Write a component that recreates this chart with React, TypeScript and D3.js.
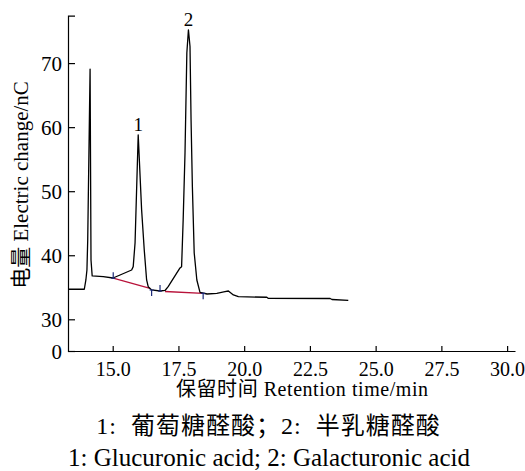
import React, { useEffect, useRef } from "react";
import * as d3 from "d3";

const xTicks = [15.0, 17.5, 20.0, 22.5, 25.0, 27.5, 30.0];
const yTicks = [0, 30, 40, 50, 60, 70];

const traceTime = [
  13.3, 13.92, 13.98, 14.02, 14.05, 14.14, 14.175, 14.22, 14.64, 15.01,
  15.28, 15.72, 15.78, 15.85, 15.97, 16.1, 16.2, 16.29, 16.35, 16.48, 16.8,
  16.99, 17.11, 17.56, 17.62, 17.68, 17.75, 17.82, 17.88, 17.94, 17.98, 18.03,
  18.1, 18.2, 18.32, 18.59, 18.96, 19.27, 19.4, 19.59, 19.78, 20.86, 20.91,
  23.27, 23.34, 23.96,
];
const traceSignal = [
  34.69, 34.69, 36.14, 37.7, 42.39, 69.06, 39.27, 36.77, 36.66, 36.45,
  36.92, 37.7, 38.22, 41.92, 58.8, 47.08, 40.83, 36.14, 35.09, 34.58, 34.42,
  34.5, 35.09, 38.02, 38.22, 45.52, 55.98, 71.61, 75.2, 72.59, 61.14, 50.72,
  40.36, 36.14, 34.19, 33.95, 34.06, 34.31, 34.42, 33.8, 33.53, 33.44, 33.28,
  33.25, 33.09, 32.94,
];

// integration baselines (start time, start value, end time, end value)
const baseStartTime = [15.02, 16.99];
const baseStartValue = [36.41, 34.34];
const baseEndTime = [16.42, 18.44];
const baseEndValue = [34.84, 34.06];

// peak boundary markers
const markerTime = [15.02, 16.48, 16.8, 18.44];
const markerValue = [36.41, 34.58, 34.42, 34.06];
const markerDir = [1, -1, 1, -1];

const peakLabel = ["1", "2"];
const peakTime = [15.97, 17.88];
const peakValue = [58.8, 75.2];

const W = 525;
const H = 471;
const serif = "'Liberation Serif', 'Times New Roman', 'Noto Sans CJK SC', serif";

export default function App() {
  const ref = useRef<SVGSVGElement>(null);

  useEffect(() => {
    const svg = d3.select(ref.current);
    svg.selectAll("*").remove();

    const x = d3.scaleLinear().domain([13.3, 30.3]).range([68, 515]);
    const y = d3.scaleLinear().domain([0, 30, 77.4]).range([351, 319.3, 15.7]);

    // x axis
    const gx = svg.append("g").attr("transform", `translate(0,${y(0)})`);
    gx.call(
      d3.axisBottom(x).tickValues(xTicks).tickSize(-5).tickSizeOuter(0).tickPadding(11)
        .tickFormat(d3.format(".1f") as any)
    );
    gx.selectAll("text").attr("font-size", 20).attr("font-family", serif).attr("fill", "#000");
    gx.selectAll("path,line").attr("stroke", "#000").attr("stroke-width", 1.2);

    // y axis
    const gy = svg.append("g").attr("transform", `translate(${x(13.3)},0)`);
    gy.call(
      d3.axisLeft(y).tickValues(yTicks).tickSize(-7).tickSizeOuter(-7).tickPadding(6)
        .tickFormat(d3.format("d") as any)
    );
    gy.selectAll("text").attr("font-size", 21).attr("font-family", serif).attr("fill", "#000").attr("dy", "0.35em");
    gy.selectAll("path,line").attr("stroke", "#000").attr("stroke-width", 1.2);

    // baselines
    const bl = svg.append("g");
    baseStartTime.forEach((t, i) => {
      bl.append("line")
        .attr("x1", x(t)).attr("y1", y(baseStartValue[i]))
        .attr("x2", x(baseEndTime[i])).attr("y2", y(baseEndValue[i]))
        .attr("stroke", "#b8123a").attr("stroke-width", 1.3);
    });

    // trace
    const pts = traceTime.map((t, i) => [t, traceSignal[i]] as [number, number]);
    const line = d3.line<[number, number]>().x((d) => x(d[0])).y((d) => y(d[1]));
    svg.append("path").datum(pts).attr("d", line).attr("fill", "none")
      .attr("stroke", "#000").attr("stroke-width", 1.3).attr("stroke-linejoin", "round");

    // markers
    markerTime.forEach((t, i) => {
      const px = x(t);
      const py = y(markerValue[i]);
      const dir = markerDir[i];
      svg.append("line").attr("x1", px).attr("x2", px).attr("y1", py).attr("y2", py - dir * 6)
        .attr("stroke", "#1c2a78").attr("stroke-width", 1.2);
      svg.append("line").attr("x1", px - 2).attr("x2", px + 2).attr("y1", py).attr("y2", py)
        .attr("stroke", "#1c2a78").attr("stroke-width", 1.2);
    });

    // peak labels
    peakLabel.forEach((lab, i) => {
      svg.append("text").attr("x", x(peakTime[i])).attr("y", y(peakValue[i]) - 4)
        .attr("text-anchor", "middle").attr("font-size", 19).attr("font-family", serif)
        .attr("fill", "#000").text(lab);
    });

    // axis titles
    svg.append("text").attr("x", 302).attr("y", 396).attr("text-anchor", "middle")
      .attr("font-size", 20).attr("font-family", serif).attr("fill", "#000")
      .attr("textLength", 252).attr("lengthAdjust", "spacing")
      .text("保留时间 Retention time/min");
    svg.append("text").attr("transform", "translate(28,185) rotate(-90)").attr("text-anchor", "middle")
      .attr("font-size", 21).attr("font-family", serif).attr("fill", "#000")
      .text("电量 Electric change/nC");

    // caption
    svg.append("text").attr("x", 268.5).attr("y", 434).attr("text-anchor", "middle")
      .attr("font-size", 24).attr("font-family", serif).attr("fill", "#000")
      .attr("letter-spacing", 1)
      .attr("xml:space", "preserve")
      .text("1:  葡萄糖醛酸；2:  半乳糖醛酸");
    svg.append("text").attr("x", 269).attr("y", 466).attr("text-anchor", "middle")
      .attr("font-size", 25).attr("font-family", serif).attr("fill", "#000")
      .text("1: Glucuronic acid; 2: Galacturonic acid");
  }, []);

  return (
    <svg ref={ref} width={W} height={H}
      style={{ position: "absolute", left: 0, top: 0, background: "#fff" }} />
  );
}
